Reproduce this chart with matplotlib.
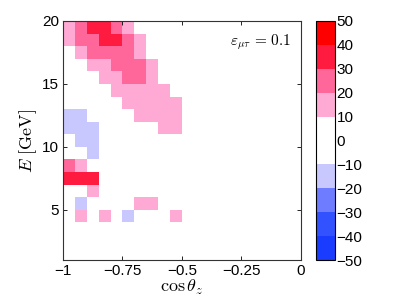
import numpy as np
import matplotlib
matplotlib.use("Agg")
import matplotlib.pyplot as plt
from matplotlib.colors import ListedColormap, BoundaryNorm

# bin edges
cos_edges = np.linspace(-1.0, 0.0, 21)
energy_edges = np.arange(1, 21)

# difference values per bin, rows from E = 19-20 GeV down to 1-2 GeV,
# columns from cos = -1 to 0 in steps of 0.05
diff_rows = [
    [15, 25, 35, 35, 25, 15, 0, 0, 0, 0, 0, 0, 0, 0, 0, 0, 0, 0, 0, 0],
    [15, 25, 25, 35, 35, 25, 15, 0, 0, 0, 0, 0, 0, 0, 0, 0, 0, 0, 0, 0],
    [0, 15, 25, 25, 25, 25, 15, 0, 0, 0, 0, 0, 0, 0, 0, 0, 0, 0, 0, 0],
    [0, 0, 15, 15, 25, 25, 25, 15, 0, 0, 0, 0, 0, 0, 0, 0, 0, 0, 0, 0],
    [0, 0, 0, 15, 15, 25, 25, 15, 0, 0, 0, 0, 0, 0, 0, 0, 0, 0, 0, 0],
    [0, 0, 0, 0, 15, 15, 15, 15, 15, 0, 0, 0, 0, 0, 0, 0, 0, 0, 0, 0],
    [0, 0, 0, 0, 0, 15, 15, 15, 15, 15, 0, 0, 0, 0, 0, 0, 0, 0, 0, 0],
    [-15, -15, 0, 0, 0, 0, 15, 15, 15, 15, 0, 0, 0, 0, 0, 0, 0, 0, 0, 0],
    [-15, -15, -15, 0, 0, 0, 0, 0, 15, 15, 0, 0, 0, 0, 0, 0, 0, 0, 0, 0],
    [0, -15, -15, 0, 0, 0, 0, 0, 0, 0, 0, 0, 0, 0, 0, 0, 0, 0, 0, 0],
    [0, 0, -15, 0, 0, 0, 0, 0, 0, 0, 0, 0, 0, 0, 0, 0, 0, 0, 0, 0],
    [25, 15, 0, 0, 0, 0, 0, 0, 0, 0, 0, 0, 0, 0, 0, 0, 0, 0, 0, 0],
    [35, 35, 35, 0, 0, 0, 0, 0, 0, 0, 0, 0, 0, 0, 0, 0, 0, 0, 0, 0],
    [0, 0, 15, 0, 0, 0, 0, 0, 0, 0, 0, 0, 0, 0, 0, 0, 0, 0, 0, 0],
    [0, -15, 0, 0, 0, 0, 15, 15, 0, 0, 0, 0, 0, 0, 0, 0, 0, 0, 0, 0],
    [0, 15, 0, 15, 0, -15, 0, 0, 0, 15, 0, 0, 0, 0, 0, 0, 0, 0, 0, 0],
    [0, 0, 0, 0, 0, 0, 0, 0, 0, 0, 0, 0, 0, 0, 0, 0, 0, 0, 0, 0],
    [0, 0, 0, 0, 0, 0, 0, 0, 0, 0, 0, 0, 0, 0, 0, 0, 0, 0, 0, 0],
    [0, 0, 0, 0, 0, 0, 0, 0, 0, 0, 0, 0, 0, 0, 0, 0, 0, 0, 0, 0],
]

level_colors = ["#1a3cff", "#3352ff", "#6e7cff", "#c8c8ff", "#ffffff",
                "#ffffff", "#ffaad4", "#ff6699", "#ff1a40", "#ff0000"]
levels = np.arange(-50, 51, 10)
cbar_ticks = [50, 40, 30, 20, 10, 0, -10, -20, -30, -40, -50]

plt.rcParams['font.family'] = ['Liberation Sans', 'DejaVu Sans']
plt.rcParams['mathtext.fontset'] = 'cm'

cmap = ListedColormap(level_colors)
norm = BoundaryNorm(levels, cmap.N)

fig = plt.figure(figsize=(3.99, 3.0), dpi=100)
ax = fig.add_axes([0.158, 0.133, 0.596, 0.797])
cax = fig.add_axes([0.792, 0.133, 0.048, 0.797])

Z = np.array(diff_rows, dtype=float)[::-1]
mesh = ax.pcolormesh(cos_edges, energy_edges, Z, cmap=cmap, norm=norm)

ax.set_xlim(-1, 0)
ax.set_ylim(1, 20)
ax.set_xticks([-1, -0.75, -0.5, -0.25, 0])
ax.set_xticklabels(["\u22121", "\u22120.75", "\u22120.5", "\u22120.25", "0"])
ax.set_yticks([5, 10, 15, 20])
ax.tick_params(direction='in', top=True, right=True, length=3, width=0.6,
               labelsize=11, pad=3)
for s in ax.spines.values():
    s.set_linewidth(0.8)
    s.set_color('#333333')

ax.set_xlabel(r'$\cos\theta_z$', fontsize=13, labelpad=0)
ax.set_ylabel(r'$E\ [\mathrm{GeV}]$', fontsize=13, labelpad=2)
ax.text(0.96, 0.95, r'$\varepsilon_{\mu\tau}\, =\, 0.1$', transform=ax.transAxes,
        ha='right', va='top', fontsize=11)

cb = fig.colorbar(mesh, cax=cax, ticks=cbar_ticks)
cb.ax.set_yticklabels(["\u2212" + str(-t) if t < 0 else str(t) for t in cbar_ticks])
cb.ax.tick_params(length=0, labelsize=11, pad=1)
cb.outline.set_linewidth(0.8)

fig.savefig("out.png", dpi=100)
